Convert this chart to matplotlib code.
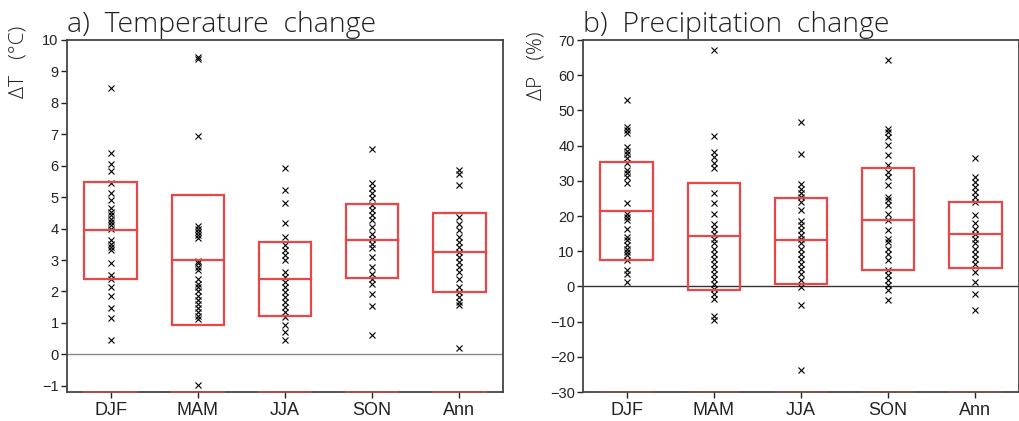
import matplotlib
matplotlib.use("Agg")
import matplotlib.pyplot as plt
import numpy as np

categories = ["DJF", "MAM", "JJA", "SON", "Ann"]

# Panel a: temperature change (deg C), individual model values
temp_DJF = [8.46, 6.39, 6.04, 5.83, 5.45, 5.14, 4.90, 4.64, 4.53, 4.43, 4.32, 4.21, 4.11,
            4.00, 3.63, 3.52, 3.42, 3.31, 2.89, 2.52, 2.41, 2.14, 1.86, 1.47, 1.17, 0.45]
temp_MAM = [9.47, 9.38, 6.94, 4.07, 4.00, 3.90, 3.80, 3.70, 2.97, 2.89, 2.78, 2.68, 2.38,
            2.25, 2.14, 2.01, 1.87, 1.73, 1.61, 1.48, 1.34, 1.22, 1.13, -0.99]
temp_JJA = [5.93, 5.24, 4.80, 4.18, 3.74, 3.47, 3.31, 3.15, 3.00, 2.62, 2.46, 2.30, 2.14,
            1.98, 1.82, 1.67, 1.51, 1.35, 1.19, 0.92, 0.71, 0.45]
temp_SON = [6.54, 5.44, 5.28, 5.12, 4.96, 4.75, 4.59, 4.43, 4.27, 4.05, 3.84, 3.68, 3.52,
            3.37, 3.10, 2.78, 2.57, 2.41, 2.25, 1.93, 1.54, 0.60]
temp_Ann = [5.86, 5.75, 5.40, 4.37, 4.16, 3.95, 3.74, 3.58, 3.42, 3.26, 3.10, 2.94, 2.78,
            2.62, 2.41, 2.14, 1.98, 1.82, 1.67, 1.56, 0.21]
temp_box_top = [5.49, 5.06, 3.58, 4.78, 4.48]
temp_box_med = [3.95, 3.00, 2.41, 3.63, 3.24]
temp_box_bot = [2.41, 0.92, 1.21, 2.44, 1.98]

# Panel b: precipitation change (%), individual model values
prec_DJF = [53.0, 45.4, 44.4, 43.5, 39.5, 38.6, 37.6, 36.4, 35.0, 33.0, 32.1, 31.1, 29.3,
            23.7, 20.7, 19.7, 18.8, 16.4, 14.0, 13.1, 11.7, 10.7, 9.8, 8.8, 7.6, 4.6, 3.6, 1.2]
prec_MAM = [67.2, 42.7, 38.3, 36.8, 35.1, 33.5, 26.6, 23.6, 20.5, 17.7, 16.4, 15.0, 13.6,
            12.2, 10.7, 9.3, 7.9, 6.5, 5.0, 3.6, 2.2, 0.8, -0.7, -2.1, -3.5, -8.3, -9.5]
prec_JJA = [46.6, 37.6, 29.1, 27.8, 26.4, 25.4, 24.0, 21.7, 18.6, 17.4, 16.0, 14.5, 13.6,
            12.2, 10.7, 9.3, 7.9, 6.5, 5.0, 3.6, 1.7, -0.2, -5.4, -23.7]
prec_SON = [64.4, 44.7, 43.8, 42.5, 40.2, 37.3, 34.5, 32.6, 31.1, 28.8, 25.4, 24.5, 23.1,
            20.7, 18.8, 16.0, 13.6, 12.6, 10.7, 9.3, 7.4, 4.6, 3.1, 1.7, 0.3, -1.1, -3.8]
prec_Ann = [36.5, 31.1, 29.7, 28.3, 26.9, 25.4, 24.0, 20.2, 17.9, 16.4, 15.0, 13.6, 12.2,
            10.7, 9.3, 7.9, 6.5, 4.1, 1.2, -2.1, -6.8]
prec_box_top = [35.4, 29.5, 25.2, 33.7, 24.0]
prec_box_med = [21.5, 14.3, 13.1, 19.0, 14.8]
prec_box_bot = [7.4, -0.9, 0.8, 4.6, 5.3]

temp_ticks = list(range(-1, 11))
prec_ticks = list(range(-30, 71, 10))

W, H = 1020, 421
fig = plt.figure(figsize=(W / 100, H / 100), dpi=100)

def px_axes(x0, x1, y0, y1):
    return fig.add_axes([x0 / W, 1 - y1 / H, (x1 - x0) / W, (y1 - y0) / H])

ax1 = px_axes(67, 503, 40, 392)
ax2 = px_axes(583, 1019, 40, 392)

RED = "#e8474a"
TICKFONT = "Liberation Sans"
THIN = "Open Sans"

def draw_panel(ax, series, tops, meds, bots, ylim, ticks, zero_color, title, ylabel_text,
               ylab_x, ylab_y, base_alpha):
    x = np.arange(1, len(categories) + 1)
    half = 0.3
    for i, vals in enumerate(series):
        ax.plot([x[i]] * len(vals), vals, linestyle="none", marker="x",
                color="black", markersize=4.2, markeredgewidth=0.8, zorder=3)
    for i in range(len(categories)):
        ax.add_patch(plt.Rectangle((x[i] - half, bots[i]), 2 * half, tops[i] - bots[i],
                                   fill=False, edgecolor=RED, linewidth=1.6, zorder=4))
        ax.plot([x[i] - half, x[i] + half], [meds[i], meds[i]], color=RED, linewidth=1.6, zorder=4)
        ax.plot([x[i] - half, x[i] + half], [ylim[0], ylim[0]], color=RED, linewidth=1.4,
                alpha=base_alpha, clip_on=False, zorder=5)
    ax.axhline(0, color=zero_color, linewidth=1.0, zorder=2)
    ax.set_xlim(0.5, 5.5)
    ax.set_ylim(*ylim)
    ax.set_yticks(ticks)
    ax.set_yticklabels([str(t).replace("-", "\u2212") for t in ticks], fontsize=10.5, family=TICKFONT)
    ax.set_xticks(x)
    ax.set_xticklabels(categories, fontsize=13, family=TICKFONT)
    ax.tick_params(axis="y", direction="out", length=4, width=1, pad=2, colors="#222222")
    ax.tick_params(axis="x", direction="out", length=4, width=1, pad=3, colors="#222222")
    for s in ax.spines.values():
        s.set_color("#444444")
        s.set_linewidth(1.3)
    ax.text(0.0, 1.003, title, transform=ax.transAxes, ha="left", va="bottom",
            fontsize=20.5, family=THIN, fontweight="light", color="#222222")
    fig.text(ylab_x / W, 1 - ylab_y / H, ylabel_text, rotation=90, ha="center", va="top",
             fontsize=15, family=THIN, fontweight="light", color="#222222")

draw_panel(ax1, [temp_DJF, temp_MAM, temp_JJA, temp_SON, temp_Ann],
           temp_box_top, temp_box_med, temp_box_bot, (-1.2, 10), temp_ticks, "#888888",
           "a)  Temperature  change", "\u0394T   (\u00b0C)", 19, 26, 0.6)
draw_panel(ax2, [prec_DJF, prec_MAM, prec_JJA, prec_SON, prec_Ann],
           prec_box_top, prec_box_med, prec_box_bot, (-30, 70), prec_ticks, "#333333",
           "b)  Precipitation  change", "\u0394P   (%)", 537, 32, 0.25)

fig.savefig("out.png", dpi=100)
